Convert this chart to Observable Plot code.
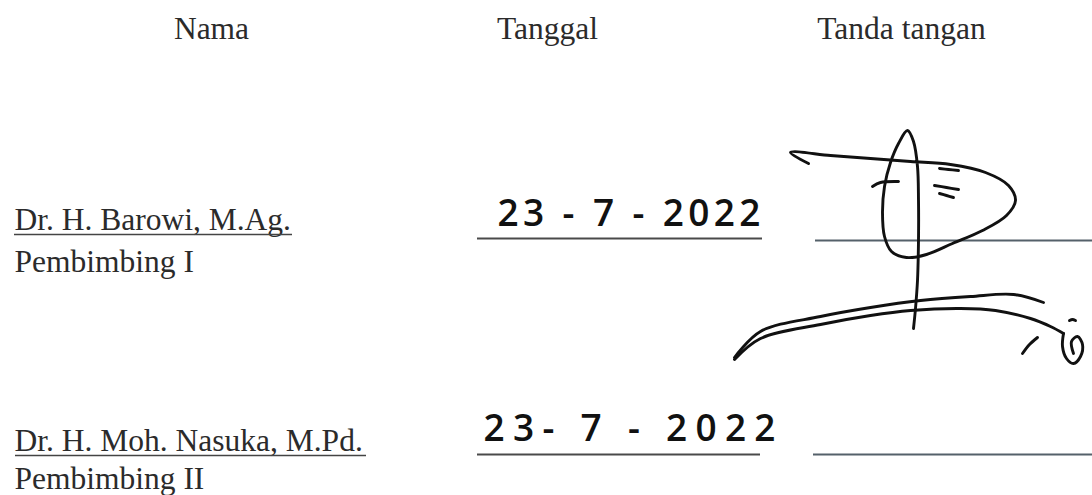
<!DOCTYPE html>
<html>
<head>
<meta charset="utf-8">
<script src="https://cdn.jsdelivr.net/npm/d3@7"></script>
<script src="https://cdn.jsdelivr.net/npm/@observablehq/plot@0.6"></script>
<style>
  html, body { margin: 0; padding: 0; background: #ffffff; }
  #chart svg { display: block; background: #ffffff; }
</style>
</head>
<body>
<div id="chart"></div>
<script>
// ---- content ----
const headers = ["Nama", "Tanggal", "Tanda tangan"];
const names = ["Dr. H. Barowi, M.Ag.", "Dr. H. Moh. Nasuka, M.Pd."];
const roles = ["Pembimbing I", "Pembimbing II"];
const dates = ["23 - 7 - 2022", "23- 7 - 2022"];

// handwritten signature, traced as strokes (page coordinates)
const signatureStrokes = [
  { id: "main", points: [[808,163],[790,152],[830,155],[870,158],[910,161],[950,164],[985,172],[1008,185],[1015,200],[1006,215],[982,230],[952,243],[926,254],[906,257],[891,251],[884,236],[882,212],[884,186],[890,162],[898,143],[907,130],[913,141],[917,166],[918,200],[918,240],[917,280],[915,308],[913,328]] },
  { id: "cross", points: [[872,186],[880,182],[898,181]] },
  { id: "dashTop", points: [[939,168],[948,169],[958,170]] },
  { id: "eq1", points: [[934,185],[946,187],[958,189]] },
  { id: "eq2", points: [[939,193],[946,195],[953,197]] },
  { id: "sweepUpper", points: [[734,357],[760,331],[820,316],[870,307],[920,300],[970,296],[1013,294],[1043,302]] },
  { id: "sweepLower", points: [[734,359],[760,338],[820,324],[870,315],[910,310],[960,308],[995,310],[1030,318],[1050,326],[1063,333]] },
  { id: "tail", points: [[1063,333],[1062,346],[1066,358],[1073,363],[1080,356],[1082,344],[1077,336],[1071,341],[1073,353]] },
  { id: "tick", points: [[1022,353],[1029,344],[1037,337]] },
  { id: "dot", points: [[1069,320],[1072,319],[1075,320]] }
];

// ---- layout (positions/sizes kept apart from the content) ----
const layout = {
  headerX: [211, 547, 901],
  headerY: 38,
  nameX: 14,
  nameY: [229, 450],
  roleY: [271, 488],
  nameUnderline: [[14, 292, 234], [15, 366, 455]],
  dateX: [497, 483],
  dateY: [225, 440],
  dateWidth: [263, 292],
  dateLine: [[477, 762, 238], [477, 760, 454]],
  signLine: [[815, 1092, 240], [813, 1092, 454]]
};

const serif = "Liberation Serif, Times New Roman, serif";
const textColor = "#2b2b2b";

const headerData = headers.map((t, i) => ({ t, x: layout.headerX[i], y: layout.headerY }));
const nameData = names.map((t, i) => ({ t, x: layout.nameX, y: layout.nameY[i] }));
const roleData = roles.map((t, i) => ({ t, x: layout.nameX, y: layout.roleY[i] }));
const dateData = dates.map((t, i) => ({ t, x: layout.dateX[i], y: layout.dateY[i], w: layout.dateWidth[i] }));
const underlineData = layout.nameUnderline.map(([x1, x2, y]) => ({ x1, x2, y }));
const dateLineData = layout.dateLine.map(([x1, x2, y]) => ({ x1, x2, y }));
const signLineData = layout.signLine.map(([x1, x2, y]) => ({ x1, x2, y }));
const strokePts = signatureStrokes.flatMap(s => s.points.map(([x, y]) => ({ id: s.id, x, y })));

const svg = Plot.plot({
  width: 1092,
  height: 495,
  margin: 0,
  style: { background: "#ffffff", overflow: "hidden" },
  x: { domain: [0, 1092], range: [0, 1092], axis: null },
  y: { domain: [0, 495], range: [0, 495], axis: null },
  marks: [
    Plot.text(headerData, { x: "x", y: "y", text: "t", textAnchor: "middle", lineAnchor: "bottom", fontSize: 31.5, fontFamily: serif, fill: textColor }),
    Plot.text(nameData, { x: "x", y: "y", text: "t", textAnchor: "start", lineAnchor: "bottom", fontSize: 31.5, fontFamily: serif, fill: textColor }),
    Plot.text(roleData, { x: "x", y: "y", text: "t", textAnchor: "start", lineAnchor: "bottom", fontSize: 31.5, fontFamily: serif, fill: textColor }),
    Plot.ruleY(underlineData, { y: "y", x1: "x1", x2: "x2", stroke: "#444", strokeWidth: 1.6 }),
    Plot.ruleY(dateLineData, { y: "y", x1: "x1", x2: "x2", stroke: "#4a4a4a", strokeWidth: 2.2 }),
    Plot.ruleY(signLineData, { y: "y", x1: "x1", x2: "x2", stroke: "#55616a", strokeWidth: 2 }),
    Plot.text(dateData, { x: "x", y: "y", text: "t", textAnchor: "start", lineAnchor: "bottom", fontSize: 37, fontFamily: "Open Sans, DejaVu Sans, sans-serif", fontWeight: 600, fill: "#111" }),
    Plot.line(strokePts, { x: "x", y: "y", z: "id", curve: "catmull-rom", stroke: "#111", strokeWidth: 2.9, strokeLinecap: "round", strokeLinejoin: "round" })
  ]
});

// stretch the handwritten dates to their written width
d3.select(svg).selectAll("text").each(function () {
  const t = this.textContent;
  const i = dates.indexOf(t);
  if (i >= 0) {
    this.setAttribute("textLength", layout.dateWidth[i]);
    this.setAttribute("lengthAdjust", "spacing");
  }
});

document.getElementById("chart").appendChild(svg);
</script>
</body>
</html>
